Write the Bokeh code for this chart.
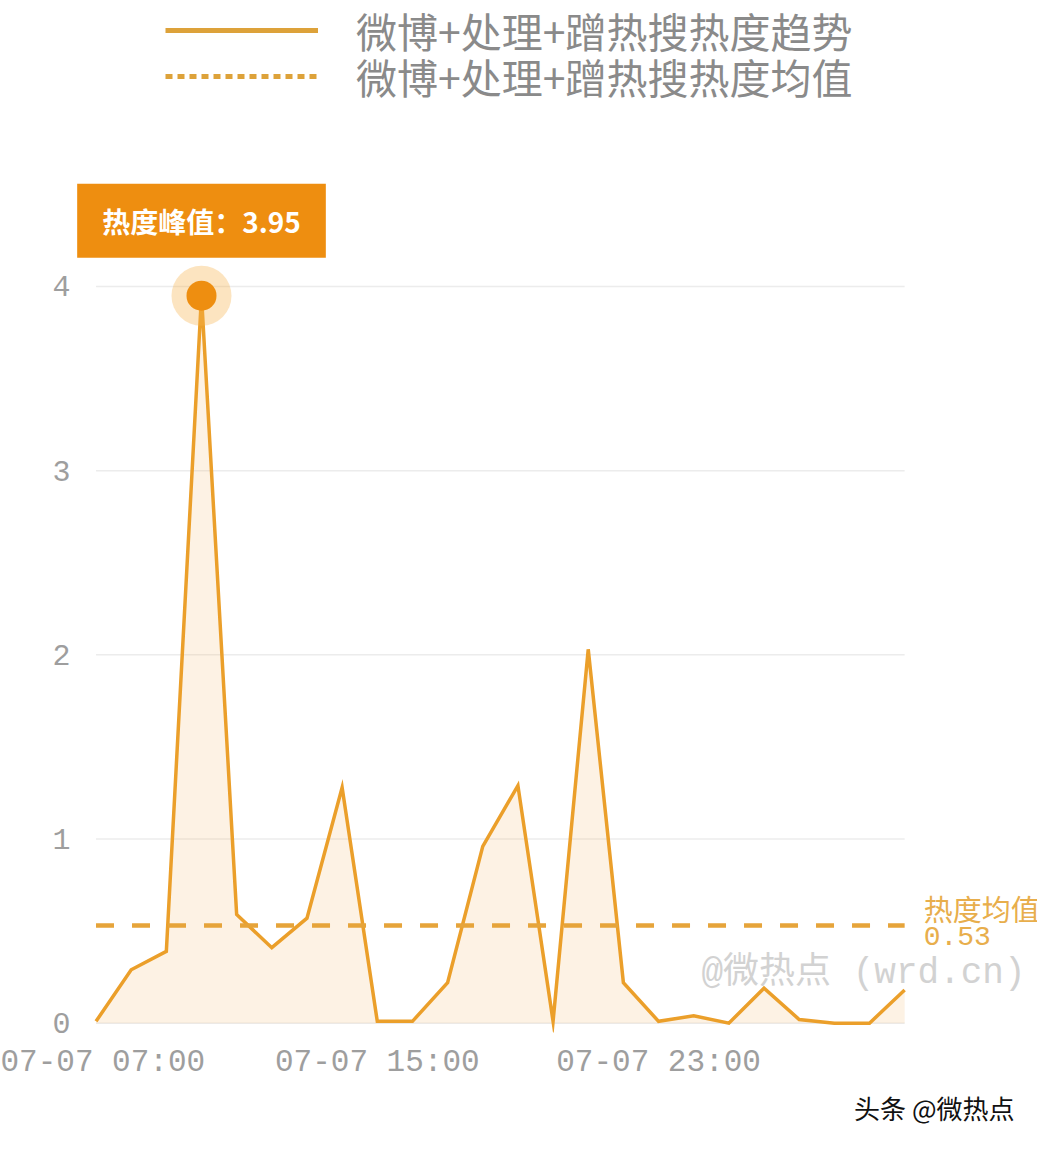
from bokeh.plotting import figure
from bokeh.models import FixedTicker, Label, Legend, LegendItem, Range1d, Title
from bokeh.embed import file_html
from bokeh.resources import INLINE

# ---------------- data ----------------
times = ["07-07 07:00", "07-07 08:00", "07-07 09:00", "07-07 10:00", "07-07 11:00",
         "07-07 12:00", "07-07 13:00", "07-07 14:00", "07-07 15:00", "07-07 16:00",
         "07-07 17:00", "07-07 18:00", "07-07 19:00", "07-07 20:00", "07-07 21:00",
         "07-07 22:00", "07-07 23:00", "07-08 00:00", "07-08 01:00", "07-08 02:00",
         "07-08 03:00", "07-08 04:00", "07-08 05:00", "07-08 06:00"]
values = [0.01, 0.29, 0.39, 3.95, 0.59, 0.41, 0.57, 1.28, 0.01, 0.01,
          0.22, 0.96, 1.29, 0.01, 2.03, 0.22, 0.01, 0.04, 0.00, 0.19,
          0.02, 0.00, 0.00, 0.18]
mean_value = 0.53
series_names = ["微博+处理+蹭热搜热度趋势", "微博+处理+蹭热搜热度均值"]
peak_text = "热度峰值：3.95"
mean_title = "热度均值"
mean_text = "0.53"
y_ticks = [0, 1, 2, 3, 4]
x_tick_idx = [0, 8, 16]
watermark = "@微热点 (wrd.cn)"
credit = "头条 @微热点"

# ---------------- styles / layout ----------------
LINE = "#EB9F2A"
FILL = "#F5BF78"
MEAN = "#E6A43A"
PEAK = "#EE8E10"
CJK = "Noto Sans CJK SC"
MONO = "Liberation Mono, Noto Sans CJK SC"

W, H = 1037, 1142
SX, SY = W / 1053, H / 1158

x = list(range(len(times)))
peak_i = max(range(len(values)), key=lambda i: values[i])

left_b = round(74 * SX)
bottom_edge = 1046 * SY
bottom_b = round(H - bottom_edge)
frame_h = H - bottom_b
frame_w = W - left_b
px_hr = 35.7 * SX
px_unit = 186.75 * SY
x0_pix = 97 * SX
zero_pix = 1037 * SY
x_start = -(x0_pix - left_b) / px_hr
x_end = x_start + frame_w / px_hr
y_start = -(frame_h - zero_pix) / px_unit
y_end = y_start + frame_h / px_unit

p = figure(width=W, height=H, output_backend="svg", toolbar_location=None,
           x_range=Range1d(x_start, x_end), y_range=Range1d(y_start, y_end),
           min_border_left=left_b, min_border_right=0, min_border_top=0,
           min_border_bottom=bottom_b)
p.outline_line_color = None
p.background_fill_color = "white"
p.border_fill_color = "white"
p.xgrid.visible = False
p.ygrid.visible = False

# axes
p.xaxis.ticker = FixedTicker(ticks=x_tick_idx)
p.xaxis.major_label_overrides = {i: times[i] for i in x_tick_idx}
p.yaxis.ticker = FixedTicker(ticks=y_ticks)
for ax in (p.xaxis, p.yaxis):
    ax.axis_line_color = None
    ax.major_tick_line_color = None
    ax.minor_tick_line_color = None
    ax.major_tick_out = 0
    ax.major_tick_in = 0
    ax.major_label_text_color = "#9e9e9e"
    ax.major_label_text_font = MONO
p.xaxis.major_label_text_font_size = "31px"
p.xaxis.major_label_standoff = 12
p.yaxis.major_label_text_font_size = "30px"
p.yaxis.major_label_standoff = 3

# grid lines limited to the data span
p.segment(x0=[x[0]] * len(y_ticks), x1=[x[-1]] * len(y_ticks), y0=y_ticks, y1=y_ticks,
          line_color="#ececec", line_width=1.5)

# area + line
p.varea(x=x, y1=[0] * len(values), y2=values, fill_color=FILL, fill_alpha=0.2)
p.line(x=x, y=values, line_color=LINE, line_width=3.5, line_join="miter")

# mean line
p.line(x=[x[0], x[-1]], y=[mean_value, mean_value], line_color=MEAN,
       line_width=4.5, line_dash="18 18")

# peak marker
p.scatter(x=[peak_i], y=[values[peak_i]], size=60, fill_color="#F7B14A",
          fill_alpha=0.35, line_color=None)
p.scatter(x=[peak_i], y=[values[peak_i]], size=30, fill_color=PEAK, line_color=None)

# peak label
p.add_layout(Label(x=peak_i, y=values[peak_i], text=peak_text, y_offset=75,
                   text_align="center", text_baseline="middle",
                   text_color="white", text_font=CJK, text_font_style="bold",
                   text_font_size="28px", background_fill_color=PEAK,
                   padding=dict(left=25, right=25, top=17, bottom=17)))

# mean labels
p.add_layout(Label(x=x[-1], y=mean_value, text=mean_title, x_offset=19, y_offset=18,
                   text_align="left", text_baseline="middle", text_color="#E8AE4C",
                   text_font=CJK, text_font_size="29px"))
p.add_layout(Label(x=x[-1], y=mean_value, text=mean_text, x_offset=19, y_offset=-10,
                   text_align="left", text_baseline="middle", text_color="#E8AE4C",
                   text_font=MONO, text_font_size="28px"))

# watermark
p.add_layout(Label(x=round(712 * SX) - left_b, y=round(frame_h - 987 * SY),
                   x_units="screen", y_units="screen", text=watermark,
                   text_align="left", text_baseline="middle", text_color="#d2d2d2",
                   text_font=MONO, text_font_size="36px"))

# credit (below the axis)
p.add_layout(Title(text=credit, align="right", offset=23, text_color="#111111",
                   text_font=CJK, text_font_size="26px", text_font_style="normal",
                   standoff=8), "below")

# legend proxies (no visible data, only their legend swatches are drawn)
nan = float("nan")
r_solid = p.line(x=[nan, nan], y=[nan, nan], line_color="#DDA23A", line_width=5)
r_dot = p.line(x=[nan, nan], y=[nan, nan], line_color="#DDA23A", line_width=5,
               line_dash="7 5")

ROW_H = 60
for name, rend, row_center in [(series_names[0], r_solid, 30 * SY),
                               (series_names[1], r_dot, 77 * SY)]:
    lg = Legend(items=[LegendItem(label=name, renderers=[rend])],
                location=(round(168 * SX) - left_b,
                          round(frame_h - (row_center + ROW_H / 2))),
                orientation="vertical")
    lg.padding = 0
    lg.margin = 0
    lg.border_line_color = None
    lg.background_fill_alpha = 0
    lg.glyph_width = 153
    lg.glyph_height = 46
    lg.label_height = 46
    lg.label_standoff = 38
    lg.spacing = 0
    lg.label_text_font = CJK
    lg.label_text_font_size = "41px"
    lg.label_text_color = "#8a8a8a"
    p.add_layout(lg)

open("out.html", "w").write(file_html(p, INLINE))
